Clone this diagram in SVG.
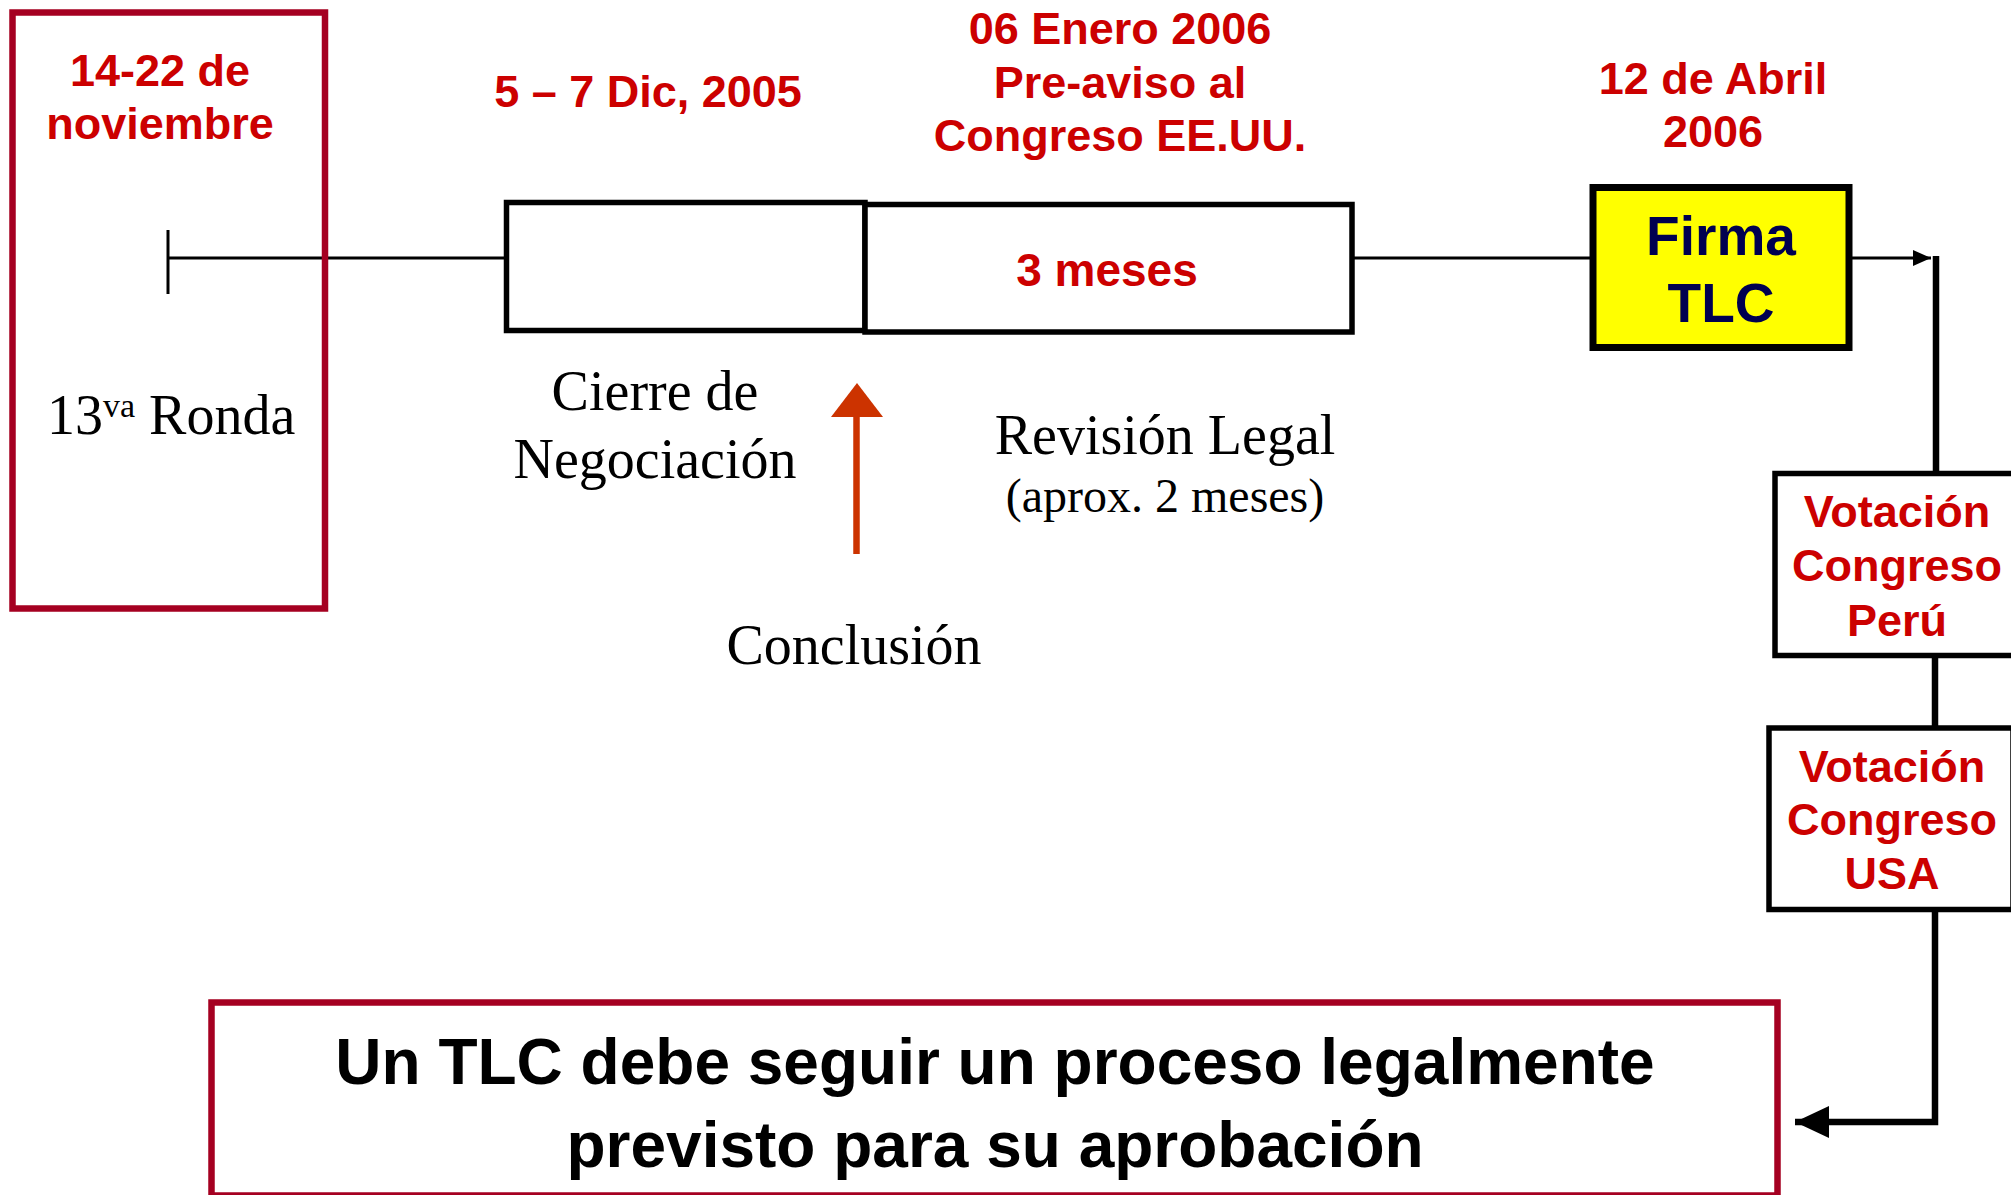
<svg xmlns="http://www.w3.org/2000/svg" width="2011" height="1195" viewBox="0 0 2011 1195">
<style>
.bg{fill:#ffffff}
.red{font-family:"Liberation Sans",Arial,sans-serif;font-weight:bold;fill:#CC0000;text-anchor:middle}
.ser{font-family:"Liberation Serif","Times New Roman",serif;fill:#000000}
.mid{text-anchor:middle}
.box{fill:#ffffff;stroke:#000000;stroke-width:5.5}
.frame{fill:none;stroke:#A50021;stroke-width:6.5}
.thin{stroke:#000000;stroke-width:3;fill:none}
.thick{stroke:#000000;stroke-width:6.5;fill:none}
</style>
<defs>
<marker id="arrSmall" viewBox="0 0 18 16" refX="18" refY="8" markerWidth="18" markerHeight="16" markerUnits="userSpaceOnUse" orient="auto">
<path d="M0,0 L18,8 L0,16 Z" fill="#000000"/>
</marker>
<marker id="arrBig" viewBox="0 0 34 32" refX="34" refY="16" markerWidth="34" markerHeight="32" markerUnits="userSpaceOnUse" orient="auto">
<path d="M0,0 L34,16 L0,32 Z" fill="#000000"/>
</marker>
</defs>
<rect class="bg" x="0" y="0" width="2011" height="1195"/>

<g id="connectors">
<line class="thin" x1="168" y1="230" x2="168" y2="294"/>
<line class="thin" x1="168" y1="258" x2="506" y2="258"/>
<line class="thin" x1="1352" y1="258" x2="1593" y2="258"/>
<line class="thin" x1="1849" y1="258" x2="1931" y2="258" marker-end="url(#arrSmall)"/>
<line class="thick" x1="1936" y1="256" x2="1936" y2="474"/>
<line class="thick" x1="1935" y1="655" x2="1935" y2="729"/>
<polyline class="thick" points="1935,909 1935,1122 1795,1122" marker-end="url(#arrBig)"/>
<g id="conclusion-arrow">
<line x1="856.5" y1="554" x2="856.5" y2="410" stroke="#CC3300" stroke-width="6.5"/>
<polygon points="831,417 883,417 857,383" fill="#CC3300"/>
</g>
</g>

<g id="ronda13">
<rect class="frame" x="12.5" y="12.5" width="312.5" height="596"/>
<text class="red" font-size="45" x="160" y="86">14-22 de</text>
<text class="red" font-size="45" x="160" y="139">noviembre</text>
<text class="ser" font-size="56" x="47" y="434">13<tspan font-size="34" dy="-17">va</tspan><tspan dy="17"> Ronda</tspan></text>
</g>

<g id="cierre">
<rect class="box" x="506.5" y="202.5" width="358.5" height="128"/>
<text class="red" font-size="45" x="648" y="107">5 – 7 Dic, 2005</text>
<text class="ser mid" font-size="56" x="655" y="410">Cierre de</text>
<text class="ser mid" font-size="56" x="655" y="478">Negociación</text>
</g>

<g id="revision">
<rect class="box" x="865" y="204.5" width="487" height="127.5"/>
<text class="red" font-size="45" x="1120" y="44">06 Enero 2006</text>
<text class="red" font-size="45" x="1120" y="97.5">Pre-aviso al</text>
<text class="red" font-size="45" x="1120" y="151">Congreso EE.UU.</text>
<text class="red" font-size="46" x="1107" y="286">3 meses</text>
<text class="ser mid" font-size="56" x="1165" y="454">Revisión Legal</text>
<text class="ser mid" font-size="48" x="1165" y="512">(aprox. 2 meses)</text>
</g>

<g id="conclusion">
<text class="ser mid" font-size="56" x="854" y="664">Conclusión</text>
</g>

<g id="firma">
<text class="red" font-size="45" x="1713" y="94">12 de Abril</text>
<text class="red" font-size="45" x="1713" y="147">2006</text>
<rect x="1593" y="187.5" width="256" height="160" fill="#FFFF00" stroke="#000000" stroke-width="7"/>
<text font-family="'Liberation Sans',Arial,sans-serif" font-weight="bold" font-size="55" fill="#000050" text-anchor="middle" x="1721" y="255">Firma</text>
<text font-family="'Liberation Sans',Arial,sans-serif" font-weight="bold" font-size="55" fill="#000050" text-anchor="middle" x="1721" y="322">TLC</text>
</g>

<g id="votacion-peru">
<rect class="box" x="1775" y="473.5" width="240" height="182" stroke-width="6.5"/>
<text class="red" font-size="45" x="1897" y="527">Votación</text>
<text class="red" font-size="45" x="1897" y="581">Congreso</text>
<text class="red" font-size="45" x="1897" y="636">Perú</text>
</g>

<g id="votacion-usa">
<rect class="box" x="1769" y="728" width="244" height="181.5" stroke-width="6.5"/>
<text class="red" font-size="45" x="1892" y="782">Votación</text>
<text class="red" font-size="45" x="1892" y="835">Congreso</text>
<text class="red" font-size="45" x="1892" y="889">USA</text>
</g>

<g id="conclusion-box">
<rect class="frame" x="211.5" y="1002.5" width="1566" height="193"/>
<text font-family="'Liberation Sans',Arial,sans-serif" font-weight="bold" font-size="64" fill="#000000" text-anchor="middle" x="995" y="1084">Un TLC debe seguir un proceso legalmente</text>
<text font-family="'Liberation Sans',Arial,sans-serif" font-weight="bold" font-size="64" fill="#000000" text-anchor="middle" x="995" y="1167">previsto para su aprobación</text>
</g>
</svg>
